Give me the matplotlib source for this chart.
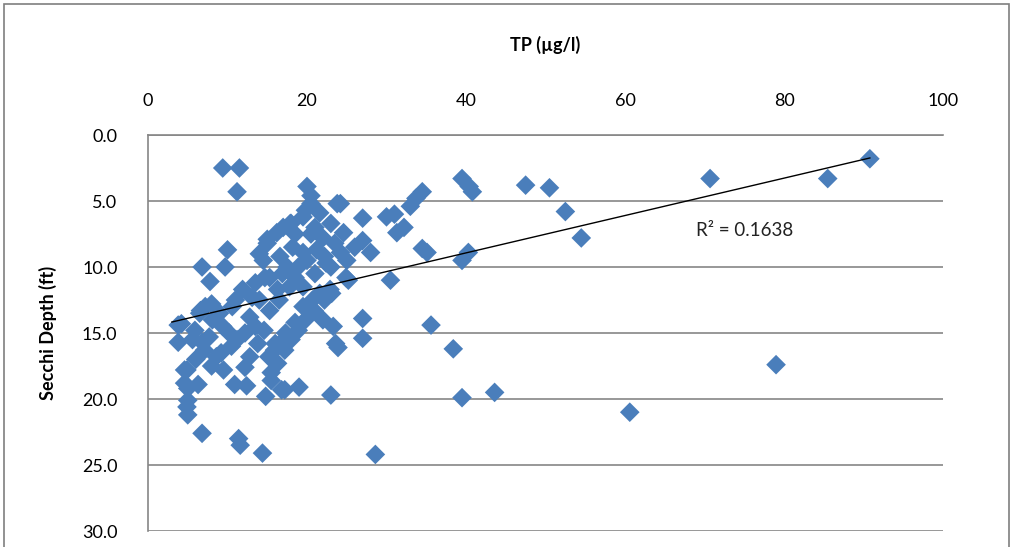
import matplotlib
matplotlib.use("Agg")
import matplotlib.pyplot as plt
from matplotlib.patches import Rectangle

plt.rcParams['font.family'] = ['Lato', 'DejaVu Sans']

tp = [90.8, 85.5, 70.7, 79.0, 60.6, 47.5, 50.5, 52.5, 54.5, 39.5,
      40.4, 40.8, 34.5, 33.7, 33.0, 31.0, 30.0, 32.2, 31.3, 27.0,
      24.2, 27.0, 28.0, 34.5, 35.1, 40.3, 39.5, 25.2, 30.5, 23.1,
      27.0, 35.6, 27.0, 23.9, 38.4, 23.0, 39.5, 43.6, 28.6, 9.4,
      11.5, 11.2, 20.0, 20.5, 10.0, 9.7, 6.8, 7.8, 6.8, 11.4,
      11.6, 14.4, 4.9, 5.0, 19.0, 17.2, 14.8, 10.9, 12.2, 9.2,
      4.6, 5.0, 6.3, 3.8, 3.8, 20.5, 15.0, 14.5, 16.2, 17.9,
      19.5, 21.6, 23.0, 24.6, 24.2, 22.4, 21.2, 19.5, 18.2, 16.6,
      16.9, 15.3, 13.5, 11.9, 11.0, 10.6, 13.1, 12.8, 12.2, 7.2,
      6.5, 8.1, 9.4, 10.2, 7.7, 5.6, 4.2, 6.8, 15.3, 16.5,
      17.8, 18.5, 19.5, 20.7, 21.6, 22.9, 24.9, 18.5, 17.3, 16.6,
      22.0, 23.3, 23.6, 6.6, 5.9, 7.1, 4.9, 4.6, 8.6, 9.5,
      11.2, 12.8, 13.8, 14.6, 12.4, 15.5, 15.9, 5.0, 15.5, 16.3,
      17.2, 18.0, 18.9, 19.8, 20.9, 22.2, 16.8, 15.2, 16.0, 23.8,
      22.2, 23.0, 15.0, 14.7, 16.3, 18.9, 18.0, 19.8, 17.0, 14.0,
      20.5, 22.0, 18.5, 21.0, 23.5, 20.0, 17.5, 14.0, 9.0, 8.0,
      21.0, 13.5, 10.5, 8.0, 6.0, 19.5, 25.0, 26.0]

secchi = [1.8, 3.3, 3.3, 17.4, 21.0, 3.8, 4.0, 5.8, 7.8, 3.3,
          3.9, 4.3, 4.3, 4.8, 5.4, 6.0, 6.2, 7.0, 7.4, 6.3,
          5.2, 8.0, 8.9, 8.6, 8.9, 8.9, 9.5, 11.0, 11.0, 12.0,
          13.9, 14.4, 15.4, 16.1, 16.2, 19.7, 19.9, 19.5, 24.2, 2.5,
          2.5, 4.3, 3.9, 4.6, 8.7, 10.0, 10.0, 11.1, 22.6, 23.0,
          23.5, 24.1, 20.6, 21.2, 19.1, 19.3, 19.8, 18.9, 17.6, 16.5,
          17.8, 19.2, 18.9, 15.7, 14.4, 5.2, 8.2, 9.5, 7.4, 6.7,
          6.2, 5.9, 6.7, 7.4, 8.9, 9.7, 8.7, 8.9, 8.5, 9.2,
          10.5, 10.8, 11.2, 11.7, 12.5, 13.0, 12.3, 13.8, 15.0, 13.0,
          13.5, 14.0, 14.5, 15.0, 15.3, 15.5, 14.3, 15.7, 13.3, 12.5,
          11.5, 10.8, 13.0, 12.5, 12.0, 11.7, 10.8, 14.2, 15.0, 15.8,
          14.0, 14.5, 15.8, 13.3, 14.8, 16.3, 17.8, 18.8, 16.8, 17.8,
          15.5, 16.8, 15.8, 14.8, 19.0, 18.0, 16.3, 20.1, 18.6, 17.3,
          16.3, 15.5, 14.8, 14.0, 13.3, 12.5, 19.3, 16.8, 15.8, 5.2,
          9.2, 10.0, 7.9, 10.8, 11.7, 10.0, 6.7, 5.7, 7.0, 9.0,
          7.5, 7.8, 7.5, 7.0, 8.2, 9.5, 10.0, 12.5, 13.5, 12.8,
          10.5, 14.5, 16.0, 17.5, 17.0, 11.5, 9.5, 8.5]

trend_x = [3.0, 90.8]
trend_y = [14.17, 1.74]

x_ticks = [0, 20, 40, 60, 80, 100]
y_ticks = [0, 5, 10, 15, 20, 25, 30]
y_tick_labels = ["0.0", "5.0", "10.0", "15.0", "20.0", "25.0", "30.0"]
r2_label = "R² = 0.1638"

fig = plt.figure(figsize=(10.13, 5.47), dpi=100)
fig.patches.append(Rectangle((4 / 1013, -0.01), 1005 / 1013, 1 - 4 / 547 + 0.01,
                             transform=fig.transFigure, fill=False,
                             edgecolor="#7f7f7f", linewidth=1.2))
ax = fig.add_axes([148 / 1013, 16 / 547, 795 / 1013, 396 / 547])

ax.scatter(tp, secchi, marker="D", s=100, color="#4a7ebb", edgecolors="none", zorder=3)
ax.plot(trend_x, trend_y, color="black", linewidth=1.0, zorder=4)

ax.set_xlim(0, 100)
ax.set_ylim(30, 0)
ax.xaxis.tick_top()
ax.xaxis.set_label_position("top")
ax.set_xticks(x_ticks)
ax.set_yticks(y_ticks)
ax.set_yticklabels(y_tick_labels)
ax.tick_params(axis="both", length=0, labelsize=13, colors="black")
ax.tick_params(axis="x", pad=19)
ax.tick_params(axis="y", pad=22)
ax.set_xlabel("TP (µg/l)", fontsize=13, fontweight="bold", labelpad=30)
ax.set_ylabel("Secchi Depth (ft)", fontsize=13, fontweight="bold", labelpad=18)

ax.grid(axis="y", color="#868686", linewidth=1.2)
ax.set_axisbelow(True)
for s in ["right", "bottom"]:
    ax.spines[s].set_visible(False)
ax.spines["left"].set_color("#868686")
ax.spines["top"].set_color("#868686")
ax.spines["left"].set_linewidth(1.2)
ax.spines["top"].set_linewidth(1.2)

ax.text(75, 7.2, r2_label, fontsize=13.5, ha="center", va="center", color="#222222")

fig.savefig("out.png", dpi=100)
